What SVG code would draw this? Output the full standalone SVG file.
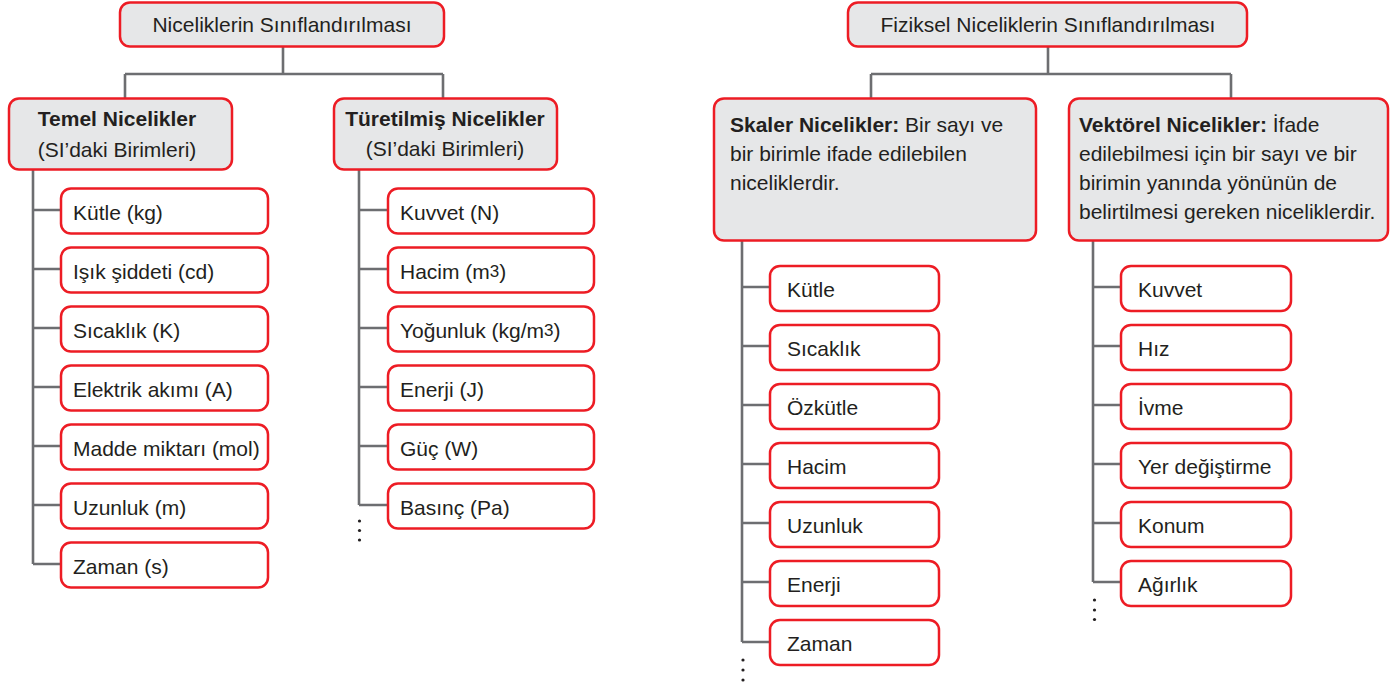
<svg xmlns="http://www.w3.org/2000/svg" width="1390" height="686" viewBox="0 0 1390 686">
  <style>
    text { font-family: "Liberation Sans", Arial, sans-serif; font-size: 21px; fill: #231f20; }
    .b { font-weight: bold; }
    .mid { text-anchor: middle; }
    .sup { font-size: 17px; }
    .head { fill: #e6e7e8; stroke: #ed1c24; stroke-width: 2.5; }
    .leaf { fill: #ffffff; stroke: #ed1c24; stroke-width: 2.5; }
    .wire { fill: none; stroke: #6d6e71; stroke-width: 2.6; }
    .dot { fill: #231f20; }
  </style>

  <!-- connectors -->
  <g id="connectors" class="wire">
    <!-- left tree -->
    <path d="M283 46 V74 M125 74 H443 M125 74 V98 M443 74 V98"/>
    <path d="M33 169 V564 M33 210 H61 M33 269 H61 M33 328 H61 M33 387 H61 M33 446 H61 M33 505 H61 M33 564 H61"/>
    <path d="M359 169 V505 M359 210 H388 M359 269 H388 M359 328 H388 M359 387 H388 M359 446 H388 M359 505 H388"/>
    <!-- right tree -->
    <path d="M1048 46 V74 M871 74 H1231 M871 74 V98 M1231 74 V98"/>
    <path d="M742 240 V642 M742 287 H770 M742 346 H770 M742 405 H770 M742 464 H770 M742 523 H770 M742 582 H770 M742 642 H770"/>
    <path d="M1093 240 V582 M1093 287 H1121 M1093 346 H1121 M1093 405 H1121 M1093 464 H1121 M1093 523 H1121 M1093 582 H1121"/>
  </g>

  <!-- continuation marks -->
  <g id="more-marks" class="dot">
    <circle cx="359.5" cy="521" r="1.6"/><circle cx="359.5" cy="530.5" r="1.6"/><circle cx="359.5" cy="540" r="1.6"/>
    <circle cx="743" cy="660" r="1.6"/><circle cx="743" cy="670" r="1.6"/><circle cx="743" cy="680" r="1.6"/>
    <circle cx="1094.5" cy="600" r="1.6"/><circle cx="1094.5" cy="610" r="1.6"/><circle cx="1094.5" cy="619.5" r="1.6"/>
  </g>

  <!-- left tree: classification of quantities -->
  <g id="root-left">
    <rect class="head" x="120" y="2.5" width="324" height="44" rx="10"/>
    <text class="mid" x="282" y="32">Niceliklerin Sınıflandırılması</text>
  </g>
  <g id="temel">
    <rect class="head" x="9" y="98.5" width="223" height="71" rx="10"/>
    <text class="mid b" x="117" y="126">Temel Nicelikler</text>
    <text class="mid" x="117" y="156.5">(SI’daki Birimleri)</text>
  </g>
  <g id="turetilmis">
    <rect class="head" x="334" y="98.5" width="223" height="71" rx="10"/>
    <text class="mid b" x="445" y="126">Türetilmiş Nicelikler</text>
    <text class="mid" x="445" y="156">(SI’daki Birimleri)</text>
  </g>

  <g id="t-kutle"><rect class="leaf" x="61" y="188.5" width="207" height="45" rx="10"/><text x="73" y="219.5">Kütle (kg)</text></g>
  <g id="t-isik"><rect class="leaf" x="61" y="247.5" width="207" height="45" rx="10"/><text x="73" y="278.5">Işık şiddeti (cd)</text></g>
  <g id="t-sicaklik"><rect class="leaf" x="61" y="306.5" width="207" height="45" rx="10"/><text x="73" y="337.5">Sıcaklık (K)</text></g>
  <g id="t-akim"><rect class="leaf" x="61" y="365.5" width="207" height="45" rx="10"/><text x="73" y="396.5">Elektrik akımı (A)</text></g>
  <g id="t-madde"><rect class="leaf" x="61" y="424.5" width="207" height="45" rx="10"/><text x="73" y="455.5">Madde miktarı (mol)</text></g>
  <g id="t-uzunluk"><rect class="leaf" x="61" y="483.5" width="207" height="45" rx="10"/><text x="73" y="514.5">Uzunluk (m)</text></g>
  <g id="t-zaman"><rect class="leaf" x="61" y="542.5" width="207" height="45" rx="10"/><text x="73" y="573.5">Zaman (s)</text></g>

  <g id="d-kuvvet"><rect class="leaf" x="388" y="188.5" width="206" height="45" rx="10"/><text x="400" y="219.5">Kuvvet (N)</text></g>
  <g id="d-hacim"><rect class="leaf" x="388" y="247.5" width="206" height="45" rx="10"/><text x="400" y="278.5">Hacim (m<tspan class="sup" dy="-2">3</tspan><tspan dy="2">)</tspan></text></g>
  <g id="d-yogunluk"><rect class="leaf" x="388" y="306.5" width="206" height="45" rx="10"/><text x="400" y="337.5">Yoğunluk (kg/m<tspan class="sup" dy="-2">3</tspan><tspan dy="2">)</tspan></text></g>
  <g id="d-enerji"><rect class="leaf" x="388" y="365.5" width="206" height="45" rx="10"/><text x="400" y="396.5">Enerji (J)</text></g>
  <g id="d-guc"><rect class="leaf" x="388" y="424.5" width="206" height="45" rx="10"/><text x="400" y="455.5">Güç (W)</text></g>
  <g id="d-basinc"><rect class="leaf" x="388" y="483.5" width="206" height="45" rx="10"/><text x="400" y="514.5">Basınç (Pa)</text></g>

  <!-- right tree: classification of physical quantities -->
  <g id="root-right">
    <rect class="head" x="848" y="2.5" width="399" height="44" rx="10"/>
    <text class="mid" x="1048" y="32">Fiziksel Niceliklerin Sınıflandırılması</text>
  </g>
  <g id="skaler">
    <rect class="head" x="714" y="98.5" width="322" height="142" rx="10"/>
    <text x="730" y="131.5"><tspan class="b">Skaler Nicelikler:</tspan> Bir sayı ve</text>
    <text x="730" y="161">bir birimle ifade edilebilen</text>
    <text x="730" y="190">niceliklerdir.</text>
  </g>
  <g id="vektorel">
    <rect class="head" x="1069" y="98.5" width="319" height="142" rx="10"/>
    <text x="1079" y="131.5"><tspan class="b">Vektörel Nicelikler:</tspan> İfade</text>
    <text x="1079" y="161">edilebilmesi için bir sayı ve bir</text>
    <text x="1079" y="190">birimin yanında yönünün de</text>
    <text x="1079" y="218.5">belirtilmesi gereken niceliklerdir.</text>
  </g>

  <g id="s-kutle"><rect class="leaf" x="770" y="266" width="169" height="45" rx="10"/><text x="787" y="297">Kütle</text></g>
  <g id="s-sicaklik"><rect class="leaf" x="770" y="325" width="169" height="45" rx="10"/><text x="787" y="356">Sıcaklık</text></g>
  <g id="s-ozkutle"><rect class="leaf" x="770" y="384" width="169" height="45" rx="10"/><text x="787" y="415">Özkütle</text></g>
  <g id="s-hacim"><rect class="leaf" x="770" y="443" width="169" height="45" rx="10"/><text x="787" y="474">Hacim</text></g>
  <g id="s-uzunluk"><rect class="leaf" x="770" y="502" width="169" height="45" rx="10"/><text x="787" y="533">Uzunluk</text></g>
  <g id="s-enerji"><rect class="leaf" x="770" y="561" width="169" height="45" rx="10"/><text x="787" y="592">Enerji</text></g>
  <g id="s-zaman"><rect class="leaf" x="770" y="620" width="169" height="45" rx="10"/><text x="787" y="651">Zaman</text></g>

  <g id="v-kuvvet"><rect class="leaf" x="1121" y="266" width="170" height="45" rx="10"/><text x="1138" y="297">Kuvvet</text></g>
  <g id="v-hiz"><rect class="leaf" x="1121" y="325" width="170" height="45" rx="10"/><text x="1138" y="356">Hız</text></g>
  <g id="v-ivme"><rect class="leaf" x="1121" y="384" width="170" height="45" rx="10"/><text x="1138" y="415">İvme</text></g>
  <g id="v-yer"><rect class="leaf" x="1121" y="443" width="170" height="45" rx="10"/><text x="1138" y="474">Yer değiştirme</text></g>
  <g id="v-konum"><rect class="leaf" x="1121" y="502" width="170" height="45" rx="10"/><text x="1138" y="533">Konum</text></g>
  <g id="v-agirlik"><rect class="leaf" x="1121" y="561" width="170" height="45" rx="10"/><text x="1138" y="592">Ağırlık</text></g>
</svg>
